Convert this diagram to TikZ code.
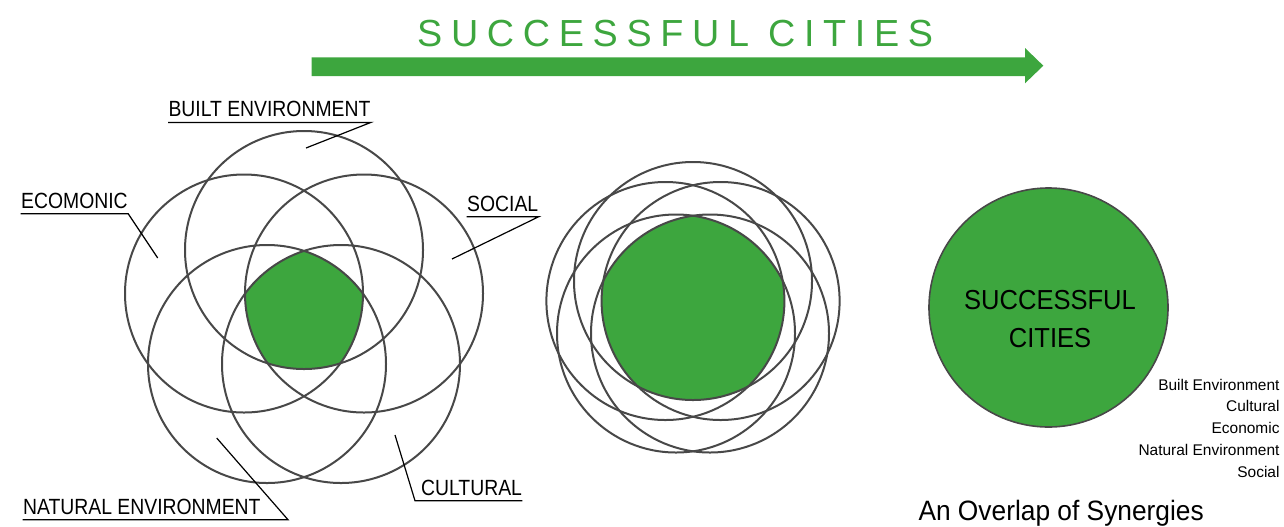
\documentclass[tikz,border=0pt]{standalone}
\usepackage{fontspec}
\usepackage{graphicx}
\setmainfont{Liberation Sans}
\newfontfamily\titlefont[LetterSpace=23]{Liberation Sans}
\newcommand{\squash}[2]{\scalebox{#1}[1]{#2}}
\definecolor{cityGreen}{RGB}{61,166,62}
\definecolor{ringGray}{RGB}{72,72,72}

\tikzset{every picture/.style={line width=0.75pt}}
\tikzset{
  ring/.style={draw=ringGray, line width=1.5pt},
  lbl/.style={font=\fontsize{16.5pt}{19pt}\selectfont, inner xsep=0pt, inner ysep=3.75pt, anchor=base west},
  leader/.style={draw=black, line width=0.9pt},
}

\begin{document}
\begin{tikzpicture}[x=0.75pt,y=0.75pt,yscale=-1,xscale=1]
\useasboundingbox (0,0) rectangle (1284,526);

%Shape: Arrow
\fill [cityGreen] (311.7,57.3) -- (1025,57.3) -- (1025,48) -- (1043.3,65.7) -- (1025,83.3) -- (1025,76) -- (311.7,76) -- cycle ;
% Text Node
\node [anchor=base west, inner sep=0pt, text=cityGreen, font=\titlefont\fontsize{28.3pt}{30pt}\selectfont] (title) at (416.7,46.5) {SUCCESSFUL CITIES};

%Shape: Five circles, spread out -- green core is where all overlap
\begin{scope}
\clip (304,250) circle (119);
\clip (244,293.5) circle (119);
\clip (364,293.5) circle (119);
\clip (267,364) circle (119);
\clip (341,364) circle (119);
\fill [cityGreen] (120,120) rectangle (490,490);
\end{scope}
\draw [ring] (304,250) circle (119);
\draw [ring] (244,293.5) circle (119);
\draw [ring] (364,293.5) circle (119);
\draw [ring] (267,364) circle (119);
\draw [ring] (341,364) circle (119);

%Shape: Five circles, drawn together
\begin{scope}
\clip (693,281) circle (119);
\clip (665.4,301) circle (119);
\clip (720.6,301) circle (119);
\clip (676,333.5) circle (119);
\clip (710,333.5) circle (119);
\fill [cityGreen] (540,150) rectangle (850,460);
\end{scope}
\draw [ring] (693,281) circle (119);
\draw [ring] (665.4,301) circle (119);
\draw [ring] (720.6,301) circle (119);
\draw [ring] (676,333.5) circle (119);
\draw [ring] (710,333.5) circle (119);

%Shape: One circle
\draw [draw=ringGray, line width=1.2pt, fill=cityGreen] (1048.5,307.5) circle (119.5);

% Text Node
\node [align=center, inner sep=0pt, font=\fontsize{20.6pt}{28.5pt}\selectfont] (goalTxt) at (1050,319) {\squash{0.93}{SUCCESSFUL}\\\squash{0.93}{CITIES}};
% Text Node
\node [anchor=north east, align=right, inner sep=0pt, font=\fontsize{11.6pt}{16.3pt}\selectfont] (facets) at (1280,378.5) {Built Environment\\Cultural\\Economic\\Natural Environment\\Social};
% Text Node
\node [anchor=base west, inner sep=0pt, font=\fontsize{21pt}{24pt}\selectfont] (caption) at (918,520) {\squash{0.94}{An Overlap of Synergies}};

% Text Node
\node [lbl] (built) at (168,116.7) {\squash{0.88}{BUILT ENVIRONMENT}};
% Text Node
\node [lbl] (econ) at (20.7,208) {\squash{0.88}{ECOMONIC}};
% Text Node
\node [lbl] (social) at (466.7,211) {\squash{0.88}{SOCIAL}};
% Text Node
\node [lbl] (cult) at (420.7,495) {\squash{0.88}{CULTURAL}};
% Text Node
\node [lbl] (natural) at (22.7,514) {\squash{0.88}{NATURAL ENVIRONMENT}};

%Straight Lines: underlines and leaders
\coordinate (builtTip) at (306,148);
\coordinate (econTip) at (157.7,258);
\coordinate (socialTip) at (452,259);
\coordinate (cultTip) at (395,435);
\coordinate (cultKnee) at (415,500);
\coordinate (natTip) at (216.7,438);
\coordinate (natKnee) at (288,517);
\draw [leader] (built.south west) -- (built.south east) -- (builtTip);
\draw [leader] (econ.south west) -- (econ.south east) -- (econTip);
\draw [leader] (social.south west) -- (social.south east) -- (socialTip);
\draw [leader] (cultTip) -- (cult.south west -| cultKnee) -- (cult.south east);
\draw [leader] (natural.south west) -- (natural.south west -| natKnee) -- (natTip);

\end{tikzpicture}
\end{document}
